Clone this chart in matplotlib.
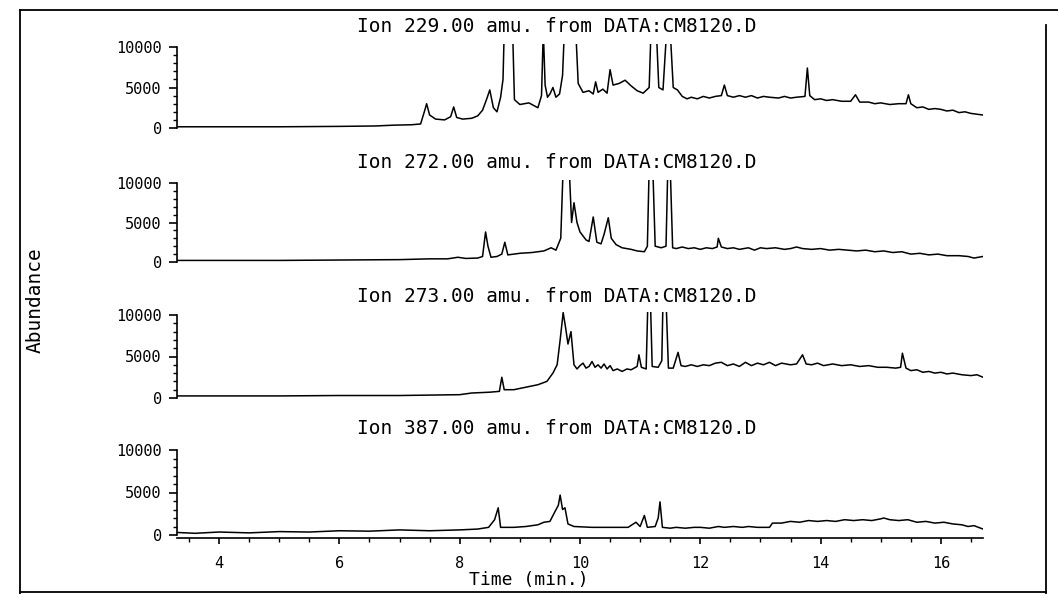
import matplotlib
matplotlib.use("Agg")
import matplotlib.pyplot as plt
from matplotlib.lines import Line2D
from matplotlib.ticker import MultipleLocator

# ion traces (time in min, abundance); values above 10400 run off scale
ion229_t = [3.3, 4.0, 5.0, 6.0, 6.6, 6.9, 7.2, 7.35, 7.42, 7.45, 7.5, 7.6, 7.75, 7.85, 7.9, 7.95,
            8.05, 8.2, 8.3, 8.38, 8.45, 8.5, 8.56, 8.62, 8.68, 8.72, 8.74, 8.88, 8.91, 9.0, 9.15,
            9.3, 9.36, 9.39, 9.42, 9.46, 9.5, 9.55, 9.6, 9.66, 9.71, 9.74, 9.93, 9.97, 10.05,
            10.15, 10.22, 10.26, 10.3, 10.38, 10.45, 10.5, 10.55, 10.65, 10.75, 10.85, 10.95,
            11.05, 11.15, 11.18, 11.27, 11.31, 11.38, 11.44, 11.5, 11.55, 11.62, 11.7, 11.78,
            11.85, 11.95, 12.05, 12.15, 12.25, 12.35, 12.4, 12.45, 12.55, 12.65, 12.75, 12.85,
            12.95, 13.05, 13.15, 13.3, 13.4, 13.5, 13.6, 13.74, 13.78, 13.82, 13.9, 14.0, 14.1,
            14.2, 14.35, 14.5, 14.58, 14.65, 14.8, 14.9, 15.0, 15.15, 15.3, 15.42, 15.46, 15.5,
            15.6, 15.7, 15.8, 15.9, 16.0, 16.1, 16.2, 16.3, 16.4, 16.5, 16.6, 16.7]
ion229_v = [150, 150, 150, 200, 250, 350, 400, 500, 2200, 3000, 1600, 1100, 1000, 1400, 2600, 1300,
            1100, 1200, 1500, 2200, 3600, 4700, 2500, 2000, 3800, 6000, 12000, 12000, 3500, 2900, 3100,
            2500, 4000, 12000, 5300, 3800, 4200, 5000, 3800, 4200, 6500, 12000, 12000, 5500, 4400,
            4600, 4200, 5700, 4400, 4800, 4300, 7200, 5300, 5500, 5900, 5200, 4600,
            4300, 5000, 12000, 12000, 5000, 4700, 12000, 12000, 5000, 4700, 3900, 3600,
            3800, 3600, 3900, 3700, 3900, 4000, 5300, 4000, 3800, 4000, 3800, 4000,
            3700, 3900, 3800, 3700, 3900, 3700, 3800, 3900, 7400, 4000, 3500, 3600, 3400,
            3500, 3300, 3300, 4100, 3200, 3200, 3000, 3100, 2900, 3000, 3000, 4100, 3000,
            2500, 2600, 2300, 2400, 2300, 2100, 2200, 1900, 2000, 1800, 1700, 1600]

ion272_t = [3.3, 4.0, 5.0, 6.0, 7.0, 7.5, 7.8, 7.97, 8.1, 8.3, 8.38, 8.43, 8.47, 8.52, 8.62, 8.7,
            8.75, 8.8, 9.0, 9.2, 9.4, 9.52, 9.6, 9.68, 9.72, 9.82, 9.86, 9.9, 9.95, 10.0, 10.1,
            10.15, 10.22, 10.28, 10.35, 10.4, 10.47, 10.52, 10.6, 10.7, 10.85, 10.95, 11.07,
            11.12, 11.15, 11.21, 11.25, 11.35, 11.43, 11.46, 11.5, 11.54, 11.6, 11.7, 11.8,
            11.9, 12.0, 12.1, 12.2, 12.28, 12.3, 12.35, 12.45, 12.55, 12.65, 12.8, 12.9, 13.0,
            13.1, 13.25, 13.4, 13.5, 13.6, 13.7, 13.85, 14.0, 14.15, 14.3, 14.45, 14.6, 14.75,
            14.9, 15.05, 15.2, 15.35, 15.5, 15.65, 15.8, 15.95, 16.1, 16.3, 16.45, 16.55, 16.7]
ion272_v = [200, 200, 200, 250, 300, 400, 400, 600, 450, 500, 700, 3800, 2000, 600, 700, 1000,
            2500, 900, 1100, 1200, 1400, 1800, 1500, 3000, 12000, 12000, 5000, 7500, 5000, 3800, 2800,
            2600, 5700, 2500, 2300, 3500, 5600, 3000, 2200, 1800, 1600, 1400, 1300,
            2000, 12000, 12000, 2000, 1800, 2000, 12000, 12000, 1800, 1700, 1900, 1700,
            1800, 1600, 1800, 1700, 1900, 3000, 1900, 1700, 1800, 1600, 1800, 1500, 1800,
            1700, 1800, 1600, 1700, 1900, 1700, 1600, 1700, 1500, 1600, 1500, 1400, 1500,
            1300, 1400, 1200, 1300, 1000, 1100, 900, 1000, 800, 800, 700, 500, 700]

ion273_t = [3.3, 4.0, 5.0, 6.0, 7.0, 7.5, 8.0, 8.2, 8.5, 8.66, 8.7, 8.74, 8.9, 9.1, 9.3, 9.45,
            9.55, 9.62, 9.67, 9.72, 9.76, 9.8, 9.85, 9.9, 9.95, 10.0, 10.05, 10.1, 10.15, 10.2,
            10.25, 10.3, 10.35, 10.4, 10.45, 10.5, 10.55, 10.62, 10.7, 10.78, 10.85, 10.95, 10.98,
            11.02, 11.1, 11.13, 11.17, 11.2, 11.3, 11.36, 11.38, 11.43, 11.47, 11.55, 11.63,
            11.68, 11.75, 11.85, 11.95, 12.05, 12.15, 12.25, 12.35, 12.45, 12.55, 12.65, 12.75,
            12.85, 12.95, 13.05, 13.15, 13.25, 13.35, 13.5, 13.6, 13.7, 13.76, 13.85, 13.95,
            14.05, 14.2, 14.35, 14.5, 14.65, 14.8, 14.95, 15.1, 15.25, 15.33, 15.36, 15.42, 15.5,
            15.6, 15.7, 15.8, 15.9, 16.0, 16.1, 16.2, 16.35, 16.5, 16.6, 16.7]
ion273_v = [250, 250, 250, 300, 300, 350, 400, 600, 700, 800, 2500, 1000, 1000, 1300, 1600, 2000,
            3000, 4000, 7000, 10300, 8500, 6500, 8000, 4000, 3500, 3900, 4200, 3600, 3800, 4400,
            3700, 4000, 3600, 4100, 3500, 3900, 3300, 3500, 3200, 3500, 3400, 3800, 5200,
            3700, 3500, 12000, 12000, 3800, 3700, 4500, 12000, 12000, 3600, 3600, 5500,
            3900, 3800, 4000, 3800, 4000, 3900, 4200, 4300, 3900, 4100, 3800, 4300,
            3900, 4200, 4000, 4300, 3900, 4200, 4000, 4100, 5200, 4100, 4000, 4200,
            3900, 4100, 3900, 4000, 3800, 3900, 3700, 3700, 3600, 3700, 5400, 3600, 3300,
            3400, 3100, 3200, 3000, 3100, 2900, 3000, 2800, 2700, 2800, 2500]

ion387_t = [3.3, 3.6, 4.0, 4.5, 5.0, 5.5, 6.0, 6.5, 7.0, 7.5, 8.0, 8.3, 8.48, 8.58, 8.64, 8.68,
            8.9, 9.1, 9.3, 9.4, 9.5, 9.58, 9.64, 9.67, 9.71, 9.75, 9.8, 9.9, 10.2, 10.5, 10.8,
            10.93, 11.0, 11.07, 11.12, 11.25, 11.3, 11.33, 11.37, 11.5, 11.6, 11.75, 11.9, 12.0,
            12.15, 12.3, 12.4, 12.55, 12.7, 12.8, 12.95, 13.15, 13.2, 13.35, 13.5, 13.65, 13.8,
            13.95, 14.1, 14.25, 14.4, 14.55, 14.7, 14.85, 15.0, 15.05, 15.15, 15.3, 15.45, 15.6,
            15.75, 15.9, 16.05, 16.2, 16.35, 16.45, 16.55, 16.7]
ion387_v = [300, 200, 350, 250, 400, 350, 500, 450, 600, 500, 600, 700, 900, 1800, 3200, 900,
            900, 1000, 1200, 1500, 1600, 2700, 3500, 4700, 3000, 3200, 1300, 1000, 900, 900, 900,
            1500, 1000, 2300, 900, 1000, 2000, 3900, 900, 800, 900, 800, 900, 900,
            800, 1000, 900, 1000, 900, 1000, 900, 900, 1400, 1400, 1600, 1500, 1700,
            1600, 1700, 1600, 1800, 1700, 1800, 1700, 1900, 2000, 1800, 1700, 1800, 1500,
            1600, 1400, 1500, 1300, 1200, 1000, 1100, 700]

titles = ["Ion 229.00 amu. from DATA:CM8120.D",
          "Ion 272.00 amu. from DATA:CM8120.D",
          "Ion 273.00 amu. from DATA:CM8120.D",
          "Ion 387.00 amu. from DATA:CM8120.D"]
series = [(ion229_t, ion229_v), (ion272_t, ion272_v), (ion273_t, ion273_v), (ion387_t, ion387_v)]
yticks = [0, 5000, 10000]
xticks = [4, 6, 8, 10, 12, 14, 16]

W, H = 1058, 594
mono = "DejaVu Sans Mono"
fig = plt.figure(figsize=(W / 100, H / 100), dpi=100)

# pixel position of zero, pixels per 10000, pixel y of title
panels = [(128, 81, 27), (262, 79, 162), (398, 83, 296), (535, 85, 428)]
x_left, x_right = 177, 983
top = 10400

for i, ((y0, s, ty), (t, v), title) in enumerate(zip(panels, series, titles)):
    lo = -300 if i == 3 else -200
    bot_px = y0 - lo / 10000 * s
    top_px = y0 - top / 10000 * s
    ax = fig.add_axes([x_left / W, 1 - bot_px / H, (x_right - x_left) / W, (bot_px - top_px) / H])
    ax.plot(t, v, color="black", lw=1.1)
    ax.set_xlim(3.3, 16.7)
    ax.set_ylim(lo, top)
    for sp in ["top", "right"]:
        ax.spines[sp].set_visible(False)
    ax.spines["left"].set_bounds(0, 10000)
    ax.spines["left"].set_linewidth(1.2)
    ax.set_yticks(yticks)
    ax.set_yticklabels([str(y) for y in yticks], family=mono, fontsize=11)
    ax.yaxis.set_minor_locator(MultipleLocator(1000))
    ax.tick_params(axis="y", which="major", length=6, width=1.2, pad=5)
    ax.tick_params(axis="y", which="minor", length=3, width=1)
    if i < 3:
        ax.spines["bottom"].set_visible(False)
        ax.set_xticks([])
    else:
        ax.spines["bottom"].set_linewidth(1.2)
        ax.set_xticks(xticks)
        ax.set_xticklabels([str(x) for x in xticks], family=mono, fontsize=11)
        ax.xaxis.set_minor_locator(MultipleLocator(0.5))
        ax.tick_params(axis="x", which="major", length=4, width=1.2, pad=9)
        ax.tick_params(axis="x", which="minor", length=3, width=1)
    ax.patch.set_alpha(0)
    fig.text(557 / W, 1 - ty / H, title, family=mono, fontsize=14, ha="center", va="center")

fig.text(35 / W, 1 - 300 / H, "Abundance", family=mono, fontsize=14, rotation=90,
         ha="center", va="center")
fig.text(529 / W, 1 - 580 / H, "Time (min.)", family=mono, fontsize=13, ha="center", va="center")

# scanned page frame
def frame(x0, y0, x1, y1):
    fig.add_artist(Line2D([x0 / W, x1 / W], [1 - y0 / H, 1 - y1 / H], color="black", lw=1.3,
                          transform=fig.transFigure))

frame(20, 10, 1058, 10)
frame(20, 10, 20, 594)
frame(1046, 25, 1046, 594)
frame(20, 592, 1046, 592)

fig.savefig("out.png", dpi=100)
